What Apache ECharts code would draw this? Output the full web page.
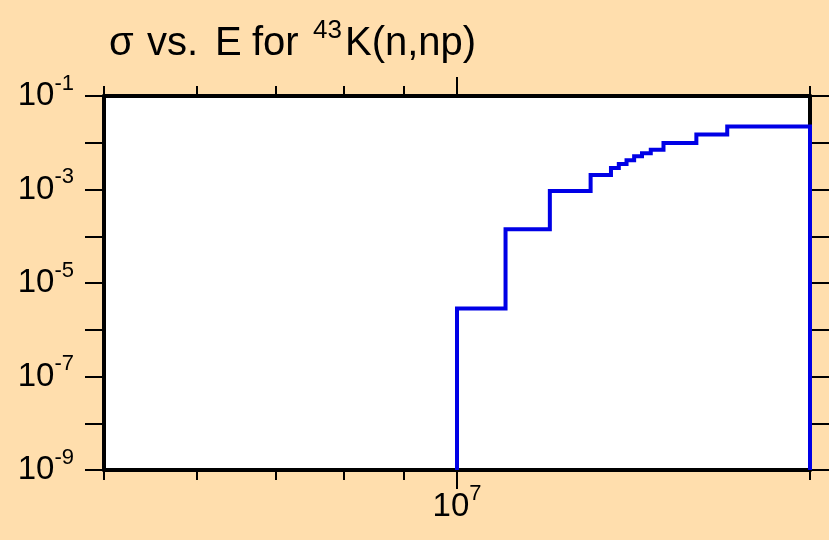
<!DOCTYPE html>
<html>
<head>
<meta charset="utf-8">
<script src="https://cdn.jsdelivr.net/npm/echarts@6/dist/echarts.min.js"></script>
<style>
html,body{margin:0;padding:0;background:#ffdead;}
#chart{width:829px;height:540px;}
</style>
</head>
<body>
<div id="chart"></div>
<script>
// Energy (eV) at the start of each step, and cross section (b) on that step
const energies = [1e7, 1e7, 1.1e7, 1.2e7, 1.3e7, 1.353e7, 1.374e7, 1.395e7, 1.416e7, 1.438e7, 1.463e7, 1.5e7, 1.6e7, 1.7e7, 2e7, 2e7];
const sigma = [1e-9, 2.84e-6, 1.42e-4, 9.24e-4, 2.03e-3, 2.87e-3, 3.50e-3, 4.20e-3, 5.12e-3, 5.93e-3, 7.08e-3, 9.86e-3, 1.51e-2, 2.24e-2, 2.24e-2, 1e-9];
const xRange = [5e6, 2e7];
const yRange = [1e-9, 1e-1];
const xMinorTicks = [5e6, 6e6, 7e6, 8e6, 9e6, 2e7];
const xMajorTicks = [1e7];
const yTicks = [1e-9, 1e-8, 1e-7, 1e-6, 1e-5, 1e-4, 1e-3, 1e-2, 1e-1];
const yLabels = [1e-9, 1e-7, 1e-5, 1e-3, 1e-1];
const titleParts = ['σ ', 'vs. ', 'E ', 'for ', '43', 'K(n,np)'];

const FONT = "'Liberation Sans', Arial, sans-serif";
const lg = v => Math.log10(v);
const fmt = v => '{b|10}{s|' + Math.round(v) + '}';
const labelRich = {
  b: {fontSize: 33, fontFamily: FONT, color: '#000', lineHeight: 33, verticalAlign: 'bottom'},
  s: {fontSize: 22, fontFamily: FONT, color: '#000', lineHeight: 22, verticalAlign: 'bottom', padding: [0, 0, 18, 0]}
};
const frameLine = {show: true, onZero: false, lineStyle: {color: '#000', width: 4}};
const noLine = {show: false, onZero: false};

function logAxis(pos, range, line) {
  return {type: 'log', logBase: 10, position: pos, min: range[0], max: range[1],
    axisLine: line, axisTick: {show: false}, axisLabel: {show: false}, splitLine: {show: false}, minorTick: {show: false}, z: 3};
}
function tickAxis(pos, range, ticks, len, labels) {
  return {type: 'value', position: pos, min: lg(range[0]), max: lg(range[1]),
    axisLine: noLine,
    axisTick: {show: true, inside: false, length: len, customValues: ticks.map(lg), lineStyle: {color: '#000', width: 2}},
    axisLabel: labels ? {show: true, customValues: labels.map(lg), formatter: fmt, rich: labelRich, margin: pos === 'bottom' ? 20 : 30, color: '#000'} : {show: false},
    splitLine: {show: false}, z: 3};
}

const tStyle = (w) => ({fontSize: 40, fontFamily: FONT, fontWeight: 'normal', color: '#000', lineHeight: 46, verticalAlign: 'bottom', width: w});
const chart = echarts.init(document.getElementById('chart'), null, {renderer: 'canvas'});
chart.setOption({
  backgroundColor: '#ffdead',
  animation: false,
  title: {
    text: '{t0|' + titleParts[0] + '}{t1|' + titleParts[1] + '}{t2|' + titleParts[2] + '}{t3|' + titleParts[3] + '}{s|' + titleParts[4] + '}{t4|' + titleParts[5] + '}',
    left: 104, top: 13,
    textStyle: {
      fontWeight: 'normal',
      rich: {
        t0: tStyle(38), t1: tStyle(68), t2: tStyle(37), t3: tStyle(61),
        s: {fontSize: 26, fontFamily: FONT, fontWeight: 'normal', color: '#000', lineHeight: 24, verticalAlign: 'top', width: 32},
        t4: tStyle(140)
      }
    }
  },
  grid: {left: 104, right: 19, top: 96, bottom: 70, show: true, backgroundColor: '#ffffff', borderWidth: 0, containLabel: false, outerBoundsMode: 'none'},
  xAxis: [
    logAxis('bottom', xRange, frameLine),
    tickAxis('bottom', xRange, xMinorTicks, 10, null),
    tickAxis('bottom', xRange, xMajorTicks, 19, xMajorTicks),
    logAxis('top', xRange, frameLine),
    tickAxis('top', xRange, xMinorTicks, 10, null),
    tickAxis('top', xRange, xMajorTicks, 19, null)
  ],
  yAxis: [
    logAxis('left', yRange, frameLine),
    tickAxis('left', yRange, yTicks, 19, yLabels),
    logAxis('right', yRange, frameLine),
    tickAxis('right', yRange, yTicks, 19, null)
  ],
  series: [{
    type: 'line',
    xAxisIndex: 0,
    yAxisIndex: 0,
    step: 'end',
    data: energies.map((e, i) => [e, sigma[i]]),
    showSymbol: false,
    symbol: 'none',
    clip: false,
    z: 10,
    lineStyle: {color: '#0000e6', width: 4, join: 'miter', cap: 'butt'}
  }]
});
</script>
</body>
</html>
